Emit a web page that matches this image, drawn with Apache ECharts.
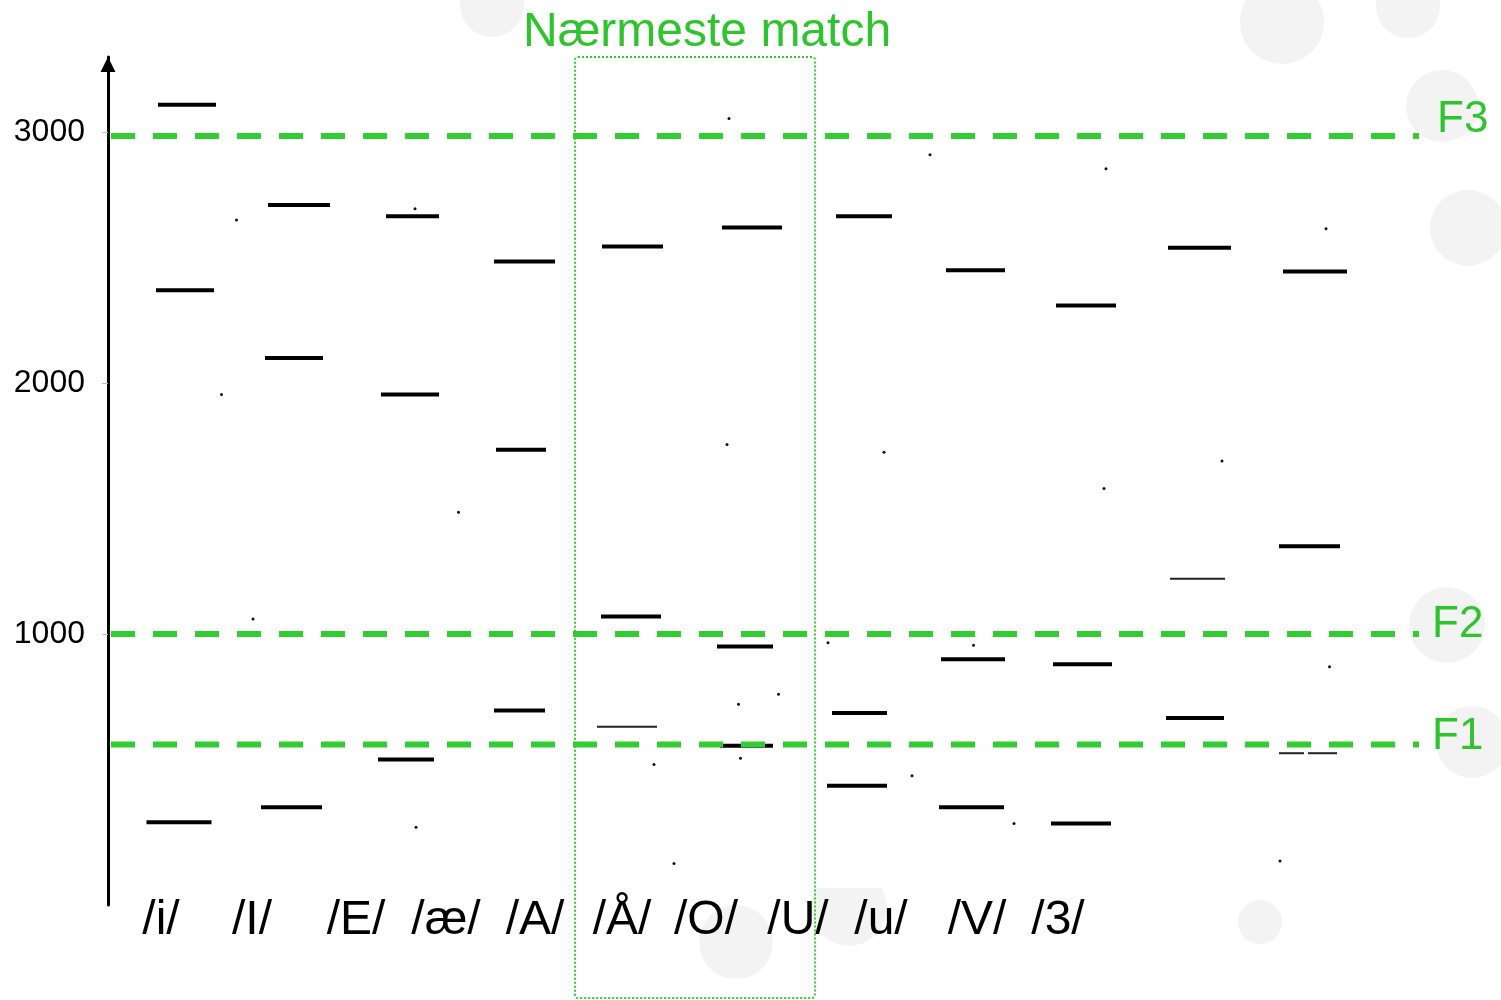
<!DOCTYPE html>
<html>
<head>
<meta charset="utf-8">
<title>Nærmeste match</title>
<script src="https://cdn.jsdelivr.net/npm/echarts@6/dist/echarts.min.js"></script>
<style>
html, body { margin: 0; padding: 0; background: #fff; }
#chart { width: 1501px; height: 1000px; }
</style>
</head>
<body>
<div id="chart"></div>
<script>
// vokaler og hvor etiketten står på tidsaksen (s)
var vowels = ['/i/', '/I/', '/E/', '/æ/', '/A/', '/Å/', '/O/', '/U/', '/u/', '/V/', '/3/'];
var vowelPos = [0.106, 0.288, 0.496, 0.676, 0.854, 1.028, 1.196, 1.380, 1.546, 1.738, 1.900];

// formantstreker: [start (s), slutt (s), Hz]
var f3Bars = [
  [0.100, 0.216, 3110], [0.320, 0.444, 2710], [0.556, 0.662, 2665],
  [0.772, 0.894, 2485], [0.988, 1.110, 2545], [1.228, 1.348, 2620],
  [1.456, 1.568, 2665], [1.676, 1.794, 2450], [1.896, 2.016, 2310],
  [2.120, 2.246, 2540], [2.350, 2.478, 2445]
];
var f2Bars = [
  [0.096, 0.212, 2370], [0.314, 0.430, 2100], [0.546, 0.662, 1955],
  [0.776, 0.876, 1735], [0.986, 1.106, 1070], [1.218, 1.330, 950],
  [1.448, 1.558, 685], [1.666, 1.794, 900], [1.890, 2.008, 880],
  [2.342, 2.464, 1350]
];
var f1Bars = [
  [0.077, 0.207, 250], [0.306, 0.428, 310], [0.540, 0.652, 500],
  [0.772, 0.874, 695], [1.224, 1.330, 555], [1.438, 1.558, 395],
  [1.662, 1.792, 310], [1.886, 2.006, 245], [2.116, 2.232, 665]
];
// svake (tynne) streker
var thinBars = [
  [0.978, 1.098, 630], [2.124, 2.234, 1220],
  [2.342, 2.392, 525], [2.400, 2.458, 525]
];
// løse punkter: [tid (s), Hz]
var dots = [
  [0.227, 1955], [0.257, 2650], [0.290, 1060], [0.614, 2695], [0.616, 230], [0.701, 1485],
  [1.092, 480], [1.132, 85], [1.238, 1755], [1.242, 3055], [1.261, 720], [1.341, 760], [1.265, 505],
  [1.440, 965], [1.552, 1725], [1.608, 435], [1.644, 2910], [1.731, 955], [1.812, 245],
  [1.996, 2855], [1.992, 1580], [2.228, 1690], [2.436, 2615], [2.443, 870], [2.344, 95]
];
// referanselinjer
var refNames = ['F3', 'F2', 'F1'];
var refValues = [2985, 1000, 560];
var refSpan = [0.006, 2.622];
var matchSpan = [0.934, 1.414];
var yTicks = [1000, 2000, 3000];

var GREEN = '#33cc33';
var TEXT_GREEN = '#2ec42e';
var FONT = '"Liberation Sans", Arial, sans-serif';

var chart = echarts.init(document.getElementById('chart'));

function barRenderer(width, color) {
  return function (params, api) {
    var a = api.coord([api.value(0), api.value(2)]);
    var b = api.coord([api.value(1), api.value(2)]);
    return {
      type: 'line',
      shape: { x1: a[0], y1: a[1], x2: b[0], y2: b[1] },
      style: { stroke: color, lineWidth: width }
    };
  };
}

function barSeries(data, width, color) {
  return {
    type: 'custom',
    data: data,
    encode: { x: [0, 1], y: 2 },
    renderItem: barRenderer(width, color),
    silent: true,
    z: 3
  };
}

var series = [];
refValues.forEach(function (v) {
  series.push({
    type: 'line',
    data: [[refSpan[0], v], [refSpan[1], v]],
    symbol: 'none',
    silent: true,
    lineStyle: { color: GREEN, width: 6, type: [24, 18], cap: 'butt' },
    z: 4
  });
});
series.push(barSeries(f3Bars, 4, '#000'));
series.push(barSeries(f2Bars, 4, '#000'));
series.push(barSeries(f1Bars, 4, '#000'));
series.push(barSeries(thinBars, 2, '#222'));
series.push({
  type: 'scatter',
  data: dots,
  symbolSize: 3,
  itemStyle: { color: '#111', opacity: 1 },
  silent: true
});

// F-etiketter ved enden av linjene
var labelOffset = { F3: [18, -16], F2: [13, -9], F1: [13, -8] };
series.push({
  type: 'scatter',
  symbolSize: 0,
  silent: true,
  itemStyle: { opacity: 1 },
  data: refNames.map(function (n, i) {
    return {
      value: [refSpan[1], refValues[i]],
      name: n,
      label: { offset: labelOffset[n] }
    };
  }),
  label: {
    show: true,
    position: 'right',
    distance: 0,
    formatter: '{b}',
    color: TEXT_GREEN,
    fontSize: 44,
    fontFamily: FONT
  }
});

// bakgrunnssirkler fra lysbildemalen
var circles = [
  [492, 5, 32], [1282, 22, 42], [1408, 6, 32], [1442, 106, 36], [1468, 228, 38],
  [1447, 625, 38], [1472, 742, 36], [1260, 922, 22], [736, 942, 37], [849, 908, 38]
];
var graphics = circles.map(function (c, i) {
  return { id: 'c' + i, type: 'circle', shape: { cx: c[0], cy: c[1], r: c[2] },
    style: { fill: '#f3f3f3' }, z: -10, silent: true };
});
graphics.push({ id: 'cover', type: 'rect', shape: { x: 0, y: 73, width: 1405, height: 815 },
  style: { fill: '#fff' }, z: -9, silent: true });

chart.setOption({
  animation: false,
  backgroundColor: '#fff',
  title: {
    text: 'Nærmeste match',
    left: 518,
    top: 4,
    textStyle: { color: TEXT_GREEN, fontSize: 48, fontWeight: 'normal', fontFamily: FONT }
  },
  grid: { left: 108, top: 57, width: 1320, height: 848 },
  xAxis: {
    type: 'value',
    min: 0,
    max: 2.64,
    axisLine: { show: false, onZero: false },
    axisTick: { show: false },
    splitLine: { show: false },
    axisLabel: {
      customValues: vowelPos,
      margin: -8,
      fontSize: 48,
      color: '#000',
      fontFamily: FONT,
      formatter: function (v) {
        for (var i = 0; i < vowelPos.length; i++) {
          if (Math.abs(vowelPos[i] - v) < 1e-6) return vowels[i];
        }
        return '';
      }
    }
  },
  yAxis: {
    type: 'value',
    min: -80,
    max: 3300,
    splitLine: { show: false },
    axisLine: {
      show: true,
      onZero: false,
      symbol: ['none', 'triangle'],
      symbolSize: [15, 15],
      symbolOffset: [0, -7.5],
      lineStyle: { color: '#000', width: 3 }
    },
    axisTick: { show: true, customValues: yTicks, length: 6, lineStyle: { color: '#bbb' } },
    axisLabel: {
      customValues: yTicks,
      margin: 23,
      fontSize: 32,
      color: '#000',
      fontFamily: FONT,
      formatter: function (v) { return String(v); }
    }
  },
  graphic: { elements: graphics },
  series: series
});

// stiplet ramme rundt nærmeste match
var p0 = chart.convertToPixel({ gridIndex: 0 }, [matchSpan[0], 3300]);
var p1 = chart.convertToPixel({ gridIndex: 0 }, [matchSpan[1], 3300]);
chart.setOption({
  graphic: {
    elements: [{
      id: 'matchBox',
      type: 'rect',
      shape: { x: p0[0], y: p0[1], width: p1[0] - p0[0], height: 998 - p0[1], r: 3 },
      style: { fill: 'none', stroke: GREEN, lineWidth: 2, lineDash: [2, 2] },
      z: 5,
      silent: true
    }]
  }
});
</script>
</body>
</html>
